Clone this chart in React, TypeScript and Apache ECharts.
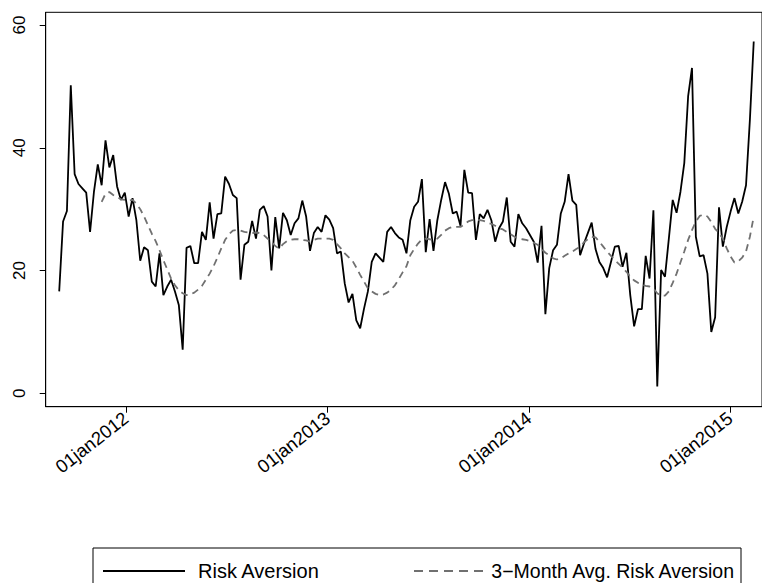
import React, { useEffect, useRef } from "react";
import * as echarts from "echarts";

// weekly observations starting 2 Sep 2011
const startDate = Date.UTC(2011, 8, 2);
const weekMs = 7 * 86400000;

const riskAversion = [
  16.6, 28.0, 29.7, 50.2, 35.7, 34.1, 33.4, 32.7, 26.3, 32.8,
  37.3, 33.9, 41.2, 36.8, 38.8, 33.7, 31.5, 32.7, 28.8, 31.8,
  28.2, 21.6, 23.8, 23.3, 18.2, 17.4, 22.8, 16.0, 17.4, 18.5,
  16.6, 14.4, 7.1, 23.7, 24.0, 21.2, 21.2, 26.3, 25.0, 31.1,
  25.2, 29.2, 29.3, 35.3, 34.1, 32.3, 31.8, 18.5, 24.2, 24.7,
  28.1, 25.2, 29.9, 30.5, 28.8, 20.0, 28.7, 23.6, 29.4, 28.2,
  25.8, 27.7, 28.5, 31.4, 28.8, 23.2, 26.1, 27.1, 26.3, 29.0,
  28.3, 26.9, 22.8, 23.1, 17.9, 14.8, 16.2, 11.9, 10.6, 13.8,
  16.6, 21.4, 22.8, 22.1, 21.4, 26.3, 27.1, 26.1, 25.4, 25.0,
  22.8, 28.2, 30.4, 31.2, 34.9, 23.0, 28.4, 23.2, 28.2, 31.5,
  34.4, 32.5, 29.3, 29.6, 27.3, 36.4, 32.7, 32.6, 25.0, 29.2,
  28.5, 29.9, 28.2, 24.7, 26.9, 28.0, 31.9, 24.7, 23.9, 29.2,
  27.7, 26.9, 25.8, 24.7, 21.3, 27.3, 12.9, 20.4, 23.3, 24.2,
  29.3, 31.2, 35.7, 31.4, 30.7, 22.5, 24.4, 26.1, 27.8, 23.5,
  21.4, 20.4, 18.9, 21.4, 23.9, 24.0, 20.6, 22.9, 16.0, 10.9,
  13.7, 13.7, 22.4, 18.7, 29.8, 1.1, 20.1, 19.0, 25.2, 31.5,
  29.4, 32.8, 37.5, 48.4, 53.0, 25.5, 22.3, 22.5, 19.5, 10.0,
  12.4, 30.3, 23.9, 27.1, 29.6, 31.8, 29.3, 31.2, 33.9, 44.5,
  57.3,
];

const avgRiskAversion = [
  null, null, null, null, null, null, null, null, null, null,
  null, 31.2, 32.5, 32.8, 32.3, 32.0, 31.6, 31.5, 31.4, 31.5,
  30.9, 30.0, 28.8, 27.4, 26.0, 24.8, 23.3, 21.7, 20.2, 18.7,
  17.6, 16.8, 16.3, 16.0, 16.1, 16.4, 16.9, 17.5, 18.5, 19.5,
  20.7, 22.1, 23.6, 25.0, 25.9, 26.5, 26.6, 26.5, 26.3, 26.2,
  26.1, 26.2, 26.1, 25.8, 25.2, 24.7, 24.0, 23.6, 24.3, 24.8,
  25.0, 25.1, 25.1, 25.0, 24.9, 24.7, 25.0, 25.2, 25.2, 25.2,
  25.2, 25.0, 24.3, 23.6, 22.8, 22.2, 21.6, 20.5, 19.3, 18.2,
  17.1, 16.6, 16.2, 16.0, 16.1, 16.4, 16.9, 17.6, 18.6, 19.7,
  20.7, 22.5, 23.5, 24.4, 25.1, 25.2, 25.1, 25.0, 25.2, 25.8,
  26.5, 26.9, 27.1, 27.1, 27.1, 27.5, 28.0, 28.2, 28.3, 28.2,
  28.1, 27.8, 27.6, 27.3, 26.9, 26.7, 26.3, 25.9, 25.5, 25.2,
  25.1, 25.0, 24.8, 24.5, 24.2, 23.5, 22.9, 22.5, 22.0, 21.8,
  22.0, 22.4, 22.8, 23.1, 23.5, 23.9, 24.6, 25.1, 25.5, 25.4,
  24.7, 23.9, 23.1, 22.4, 21.7, 21.1, 20.5, 19.8, 19.0, 18.4,
  18.0, 17.7, 17.5, 17.4, 17.1, 16.3, 15.9, 15.9, 16.6, 18.0,
  19.5, 21.3, 23.1, 25.0, 26.6, 28.0, 28.9, 29.1, 28.8, 27.9,
  26.8, 26.1, 25.2, 23.6, 22.3, 21.3, 21.5, 22.1, 23.1, 25.5,
  28.8,
];

const xTickDates = [Date.UTC(2012, 0, 1), Date.UTC(2013, 0, 1), Date.UTC(2014, 0, 1), Date.UTC(2015, 0, 1)];
const xTickLabels = ["01jan2012", "01jan2013", "01jan2014", "01jan2015"];
const yTicks = [0, 20, 40, 60];

const xMin = Date.UTC(2011, 7, 8, 12);
const xMax = Date.UTC(2015, 1, 28);

const seriesNames = ["Risk Aversion", "3\u2212Month Avg. Risk Aversion"];
const seriesColors = ["#000000", "#707070"];

export default function App() {
  const ref = useRef<HTMLDivElement>(null);
  useEffect(() => {
    if (!ref.current) return;
    const chart = echarts.init(ref.current, undefined, { renderer: "svg" });
    const font = "Liberation Sans, Arial, Helvetica, sans-serif";
    const legendY = 571;
    chart.setOption({
      animation: false,
      backgroundColor: "#ffffff",
      grid: {
        left: 45.7,
        top: 12.3,
        width: 723.3,
        height: 394.4,
        show: true,
        borderColor: "#000000",
        borderWidth: 1,
        backgroundColor: "transparent",
      },
      xAxis: {
        type: "value",
        min: xMin,
        max: xMax,
        axisLine: { show: true, onZero: false, lineStyle: { color: "#000", width: 1 } },
        axisTick: { show: true, customValues: xTickDates, length: 6, lineStyle: { color: "#000" } },
        axisLabel: {
          customValues: xTickDates,
          rotate: 38,
          margin: 9,
          fontSize: 18.5,
          fontFamily: font,
          color: "#000",
          formatter: (v: number) => {
            const k = xTickDates.indexOf(v);
            return k >= 0 ? xTickLabels[k] : "";
          },
        },
        splitLine: { show: false },
      },
      yAxis: {
        type: "value",
        min: -2.18,
        max: 62.07,
        axisLine: { show: true, lineStyle: { color: "#000", width: 1 } },
        axisTick: { show: true, customValues: yTicks, length: 6, lineStyle: { color: "#000" } },
        axisLabel: {
          customValues: yTicks,
          rotate: 90,
          margin: 18,
          fontSize: 17,
          fontFamily: font,
          color: "#000",
        },
        splitLine: { show: false },
      },
      graphic: [
        {
          type: "rect",
          shape: { x: 93, y: 548, width: 648, height: 60 },
          style: { fill: "none", stroke: "#000", lineWidth: 1 },
          silent: true,
        },
        {
          type: "line",
          shape: { x1: 103, y1: legendY, x2: 185, y2: legendY },
          style: { stroke: seriesColors[0], lineWidth: 1.8 },
          silent: true,
        },
        {
          type: "text",
          x: 198,
          y: legendY,
          style: {
            text: seriesNames[0],
            fontSize: 20,
            fontFamily: font,
            fill: "#000",
            verticalAlign: "middle",
            align: "left",
          },
          silent: true,
        },
        {
          type: "line",
          shape: { x1: 414, y1: legendY, x2: 484, y2: legendY },
          style: { stroke: seriesColors[1], lineWidth: 1.8, lineDash: [9, 6] },
          silent: true,
        },
        {
          type: "text",
          x: 734,
          y: legendY,
          style: {
            text: seriesNames[1],
            fontSize: 19.5,
            fontFamily: font,
            fill: "#000",
            verticalAlign: "middle",
            align: "right",
          },
          silent: true,
        },
      ],
      series: [
        {
          name: seriesNames[0],
          type: "line",
          symbol: "none",
          data: riskAversion.map((v, i) => [startDate + i * weekMs, v]),
          lineStyle: { color: seriesColors[0], width: 1.8 },
          itemStyle: { color: seriesColors[0] },
        },
        {
          name: seriesNames[1],
          type: "line",
          symbol: "none",
          connectNulls: false,
          data: avgRiskAversion.map((v, i) => [startDate + i * weekMs, v]),
          lineStyle: { color: seriesColors[1], width: 1.8, type: [7, 5] },
          itemStyle: { color: seriesColors[1] },
        },
      ],
    });
    return () => chart.dispose();
  }, []);
  return (
    <div
      ref={ref}
      style={{ position: "absolute", left: 0, top: 0, width: 762, height: 583, background: "#fff" }}
    />
  );
}
